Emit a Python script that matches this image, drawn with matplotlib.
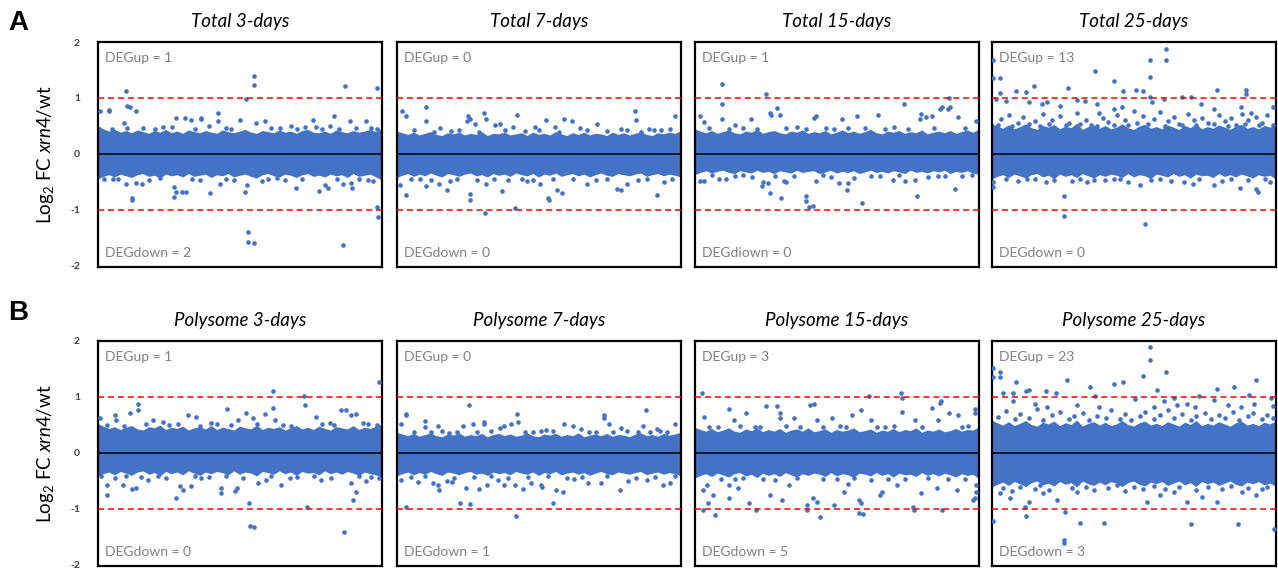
import numpy as np
import matplotlib
matplotlib.use("Agg")
import matplotlib.pyplot as plt

FONT = "Lato"
plt.rcParams['font.family'] = [FONT, 'DejaVu Sans']
plt.rcParams['mathtext.fontset'] = 'custom'
plt.rcParams['mathtext.rm'] = FONT
plt.rcParams['mathtext.it'] = FONT + ':italic'

# ---------------- data ----------------
titles = ["Total 3-days", "Total 7-days", "Total 15-days", "Total 25-days",
          "Polysome 3-days", "Polysome 7-days", "Polysome 15-days", "Polysome 25-days"]
deg_up = [1, 0, 1, 13, 1, 0, 3, 23]
deg_down = [2, 0, 0, 0, 0, 1, 5, 3]
down_label = ["DEGdown", "DEGdown", "DEGdiown", "DEGdown",
              "DEGdown", "DEGdown", "DEGdown", "DEGdown"]
yticks = [-2, -1, 0, 1, 2]
thresholds = [-1, 1]

# upper / lower edge of the dense cloud of genes, read left to right across each panel
t3_hi = [0.50, 0.44, 0.40, 0.43, 0.38, 0.41, 0.37, 0.42, 0.39, 0.36, 0.41, 0.38, 0.43, 0.37, 0.40, 0.36, 0.42, 0.39, 0.37, 0.41, 0.38, 0.36, 0.42, 0.39, 0.37, 0.40, 0.43, 0.38, 0.36, 0.41, 0.39, 0.37, 0.42, 0.38, 0.40, 0.36, 0.41, 0.43, 0.38, 0.37, 0.40, 0.36, 0.42, 0.39, 0.37, 0.41, 0.38, 0.40, 0.43, 0.39, 0.45]
t3_lo = [-0.46, -0.41, -0.38, -0.42, -0.37, -0.40, -0.43, -0.38, -0.36, -0.41, -0.39, -0.44, -0.37, -0.40, -0.38, -0.42, -0.36, -0.41, -0.39, -0.37, -0.43, -0.38, -0.40, -0.36, -0.42, -0.39, -0.37, -0.41, -0.44, -0.38, -0.36, -0.40, -0.42, -0.37, -0.39, -0.43, -0.38, -0.36, -0.41, -0.39, -0.42, -0.37, -0.40, -0.38, -0.43, -0.36, -0.41, -0.39, -0.37, -0.42, -0.47]
t7_hi = [0.40, 0.37, 0.34, 0.38, 0.33, 0.36, 0.39, 0.34, 0.32, 0.37, 0.35, 0.38, 0.33, 0.36, 0.34, 0.39, 0.32, 0.36, 0.35, 0.38, 0.33, 0.35, 0.37, 0.32, 0.38, 0.34, 0.36, 0.33, 0.39, 0.35, 0.32, 0.37, 0.34, 0.38, 0.33, 0.36, 0.35, 0.32, 0.38, 0.34, 0.37, 0.33, 0.36, 0.39, 0.34, 0.32, 0.37, 0.35, 0.38, 0.36, 0.40]
t7_lo = [-0.43, -0.39, -0.36, -0.41, -0.37, -0.40, -0.35, -0.39, -0.42, -0.36, -0.38, -0.41, -0.37, -0.35, -0.40, -0.38, -0.42, -0.36, -0.39, -0.37, -0.41, -0.35, -0.38, -0.40, -0.36, -0.42, -0.37, -0.39, -0.35, -0.41, -0.38, -0.36, -0.40, -0.37, -0.42, -0.38, -0.35, -0.39, -0.41, -0.36, -0.38, -0.40, -0.37, -0.35, -0.41, -0.38, -0.36, -0.40, -0.37, -0.39, -0.42]
t15_hi = [0.44, 0.40, 0.37, 0.41, 0.36, 0.39, 0.42, 0.37, 0.35, 0.40, 0.38, 0.43, 0.36, 0.39, 0.41, 0.37, 0.35, 0.40, 0.38, 0.42, 0.36, 0.39, 0.37, 0.41, 0.35, 0.38, 0.42, 0.37, 0.40, 0.36, 0.39, 0.43, 0.37, 0.35, 0.40, 0.38, 0.41, 0.36, 0.39, 0.37, 0.42, 0.35, 0.38, 0.40, 0.37, 0.41, 0.36, 0.39, 0.42, 0.38, 0.43]
t15_lo = [-0.38, -0.34, -0.31, -0.35, -0.32, -0.30, -0.34, -0.36, -0.31, -0.33, -0.35, -0.30, -0.34, -0.32, -0.36, -0.31, -0.33, -0.35, -0.30, -0.34, -0.32, -0.31, -0.36, -0.33, -0.30, -0.35, -0.32, -0.34, -0.31, -0.36, -0.33, -0.30, -0.34, -0.32, -0.35, -0.31, -0.33, -0.36, -0.30, -0.34, -0.32, -0.35, -0.31, -0.33, -0.30, -0.36, -0.32, -0.34, -0.31, -0.35, -0.37]
t25_hi = [0.54, 0.49, 0.45, 0.51, 0.44, 0.48, 0.53, 0.46, 0.43, 0.50, 0.47, 0.52, 0.44, 0.49, 0.46, 0.54, 0.43, 0.48, 0.51, 0.45, 0.50, 0.44, 0.47, 0.53, 0.46, 0.43, 0.49, 0.52, 0.45, 0.48, 0.44, 0.51, 0.47, 0.43, 0.50, 0.46, 0.53, 0.44, 0.48, 0.45, 0.51, 0.47, 0.43, 0.49, 0.52, 0.45, 0.48, 0.44, 0.50, 0.47, 0.52]
t25_lo = [-0.46, -0.41, -0.38, -0.43, -0.37, -0.40, -0.44, -0.38, -0.36, -0.42, -0.39, -0.45, -0.37, -0.41, -0.38, -0.43, -0.36, -0.40, -0.44, -0.38, -0.41, -0.37, -0.39, -0.43, -0.36, -0.42, -0.38, -0.40, -0.45, -0.37, -0.39, -0.42, -0.36, -0.41, -0.38, -0.44, -0.37, -0.40, -0.39, -0.43, -0.36, -0.41, -0.38, -0.42, -0.37, -0.40, -0.44, -0.38, -0.41, -0.39, -0.45]
p3_hi = [0.52, 0.47, 0.43, 0.46, 0.41, 0.45, 0.48, 0.42, 0.40, 0.46, 0.44, 0.49, 0.41, 0.45, 0.43, 0.47, 0.40, 0.44, 0.46, 0.42, 0.48, 0.41, 0.45, 0.43, 0.40, 0.47, 0.44, 0.42, 0.49, 0.41, 0.45, 0.43, 0.46, 0.40, 0.44, 0.48, 0.42, 0.45, 0.41, 0.47, 0.43, 0.40, 0.46, 0.44, 0.42, 0.48, 0.41, 0.45, 0.43, 0.47, 0.50]
p3_lo = [-0.42, -0.38, -0.35, -0.40, -0.34, -0.37, -0.41, -0.35, -0.33, -0.39, -0.36, -0.42, -0.34, -0.38, -0.35, -0.40, -0.33, -0.37, -0.41, -0.35, -0.38, -0.34, -0.36, -0.40, -0.33, -0.39, -0.35, -0.37, -0.42, -0.34, -0.36, -0.39, -0.33, -0.38, -0.35, -0.41, -0.34, -0.37, -0.36, -0.40, -0.33, -0.38, -0.35, -0.39, -0.34, -0.37, -0.41, -0.35, -0.38, -0.40, -0.44]
p7_hi = [0.36, 0.33, 0.30, 0.34, 0.29, 0.32, 0.35, 0.30, 0.28, 0.33, 0.31, 0.35, 0.29, 0.32, 0.30, 0.34, 0.28, 0.32, 0.34, 0.30, 0.33, 0.29, 0.31, 0.35, 0.30, 0.28, 0.33, 0.31, 0.34, 0.29, 0.32, 0.30, 0.35, 0.28, 0.31, 0.33, 0.30, 0.34, 0.29, 0.32, 0.31, 0.28, 0.33, 0.35, 0.30, 0.32, 0.29, 0.34, 0.31, 0.33, 0.36]
p7_lo = [-0.42, -0.38, -0.35, -0.40, -0.36, -0.39, -0.34, -0.38, -0.41, -0.35, -0.37, -0.40, -0.36, -0.34, -0.39, -0.37, -0.41, -0.35, -0.38, -0.36, -0.40, -0.34, -0.37, -0.39, -0.35, -0.41, -0.36, -0.38, -0.34, -0.40, -0.37, -0.35, -0.39, -0.36, -0.41, -0.37, -0.34, -0.38, -0.40, -0.35, -0.37, -0.39, -0.36, -0.34, -0.40, -0.37, -0.35, -0.39, -0.36, -0.38, -0.41]
p15_hi = [0.45, 0.41, 0.38, 0.43, 0.37, 0.40, 0.44, 0.38, 0.36, 0.42, 0.39, 0.44, 0.37, 0.41, 0.38, 0.43, 0.36, 0.40, 0.42, 0.38, 0.44, 0.37, 0.39, 0.42, 0.36, 0.41, 0.38, 0.40, 0.44, 0.37, 0.39, 0.42, 0.36, 0.40, 0.38, 0.43, 0.37, 0.41, 0.39, 0.44, 0.36, 0.40, 0.38, 0.42, 0.37, 0.39, 0.43, 0.38, 0.41, 0.40, 0.45]
p15_lo = [-0.46, -0.41, -0.38, -0.43, -0.37, -0.40, -0.44, -0.38, -0.36, -0.42, -0.39, -0.45, -0.37, -0.41, -0.38, -0.43, -0.36, -0.40, -0.44, -0.38, -0.41, -0.37, -0.39, -0.43, -0.36, -0.42, -0.38, -0.40, -0.45, -0.37, -0.39, -0.42, -0.36, -0.41, -0.38, -0.44, -0.37, -0.40, -0.39, -0.43, -0.36, -0.41, -0.38, -0.42, -0.37, -0.40, -0.44, -0.38, -0.41, -0.39, -0.46]
p25_hi = [0.58, 0.53, 0.49, 0.55, 0.48, 0.52, 0.57, 0.50, 0.47, 0.54, 0.51, 0.56, 0.48, 0.53, 0.50, 0.58, 0.47, 0.52, 0.55, 0.49, 0.54, 0.48, 0.51, 0.57, 0.50, 0.47, 0.53, 0.56, 0.49, 0.52, 0.48, 0.55, 0.51, 0.47, 0.54, 0.50, 0.57, 0.48, 0.52, 0.49, 0.55, 0.51, 0.47, 0.53, 0.56, 0.49, 0.52, 0.48, 0.54, 0.51, 0.56]
p25_lo = [-0.62, -0.57, -0.53, -0.59, -0.52, -0.56, -0.61, -0.54, -0.51, -0.58, -0.55, -0.60, -0.52, -0.57, -0.54, -0.62, -0.51, -0.56, -0.59, -0.53, -0.58, -0.52, -0.55, -0.61, -0.54, -0.51, -0.57, -0.60, -0.53, -0.56, -0.52, -0.59, -0.55, -0.51, -0.58, -0.54, -0.61, -0.52, -0.56, -0.53, -0.59, -0.55, -0.51, -0.57, -0.60, -0.53, -0.56, -0.52, -0.58, -0.55, -0.60]

# individual genes outside the dense band: (position across panel 0-100, log2 FC)
t3_pts = [(9.7, 1.12), (10.3, 0.85), (11.2, 0.83), (13.5, 0.76), (3.8, 0.79), (3.8, 0.76), (0.6, 0.77), (9, 0.56), (10.2, 0.47),
          (27.6, 0.65), (30.6, 0.64), (32.9, 0.61), (36.3, 0.65), (36.3, 0.62), (42.3, 0.73), (42.3, 0.58), (49.9, 0.61),
          (52.2, 0.985), (54.9, 1.39), (54.9, 1.24), (55.8, 0.56), (58.9, 0.59), (75.7, 0.61), (76.6, 0.49), (81.6, 0.50),
          (83, 0.67), (88.6, 0.58), (86.9, 1.22), (98.4, 1.18), (98.4, 0.45), (94.5, 0.58), (67.8, 0.50), (39, 0.50), (26, 0.48),
          (5, 0.45), (16, 0.46), (20, 0.44), (23, 0.48), (34, 0.45), (45, 0.47), (47, 0.44), (61, 0.46), (64, 0.47), (70, 0.45),
          (73, 0.48), (79, 0.44), (85, 0.45), (91, 0.47), (96, 0.46),
          (12.1, -0.79), (12.1, -0.83), (9.7, -0.53), (13.5, -0.52), (15.6, -0.53), (26.8, -0.59), (26.8, -0.77), (27.6, -0.68),
          (29.5, -0.68), (30.9, -0.68), (39.6, -0.70), (42.8, -0.53), (51.6, -0.68), (52.5, -0.55), (52.9, -1.40), (52.9, -1.58),
          (54.8, -1.60), (57.9, -0.49), (69.8, -0.61), (77.8, -0.67), (79.8, -0.56), (81, -0.60), (86.3, -0.53), (89.2, -0.52),
          (89.5, -0.60), (86.3, -1.62), (96.8, -0.49), (98.4, -0.95), (98.6, -1.12), (5.3, -0.45),
          (2, -0.45), (7, -0.44), (18, -0.46), (22, -0.43), (33, -0.45), (36, -0.47), (45, -0.44), (48, -0.46), (60, -0.45),
          (63, -0.43), (66, -0.46), (72, -0.44), (84, -0.45), (92, -0.44), (95, -0.46)]
t7_pts = [(10.1, 0.83), (10.1, 0.58), (1.9, 0.77), (3.1, 0.68), (25.1, 0.68), (25.7, 0.62), (24.7, 0.59), (27.5, 0.54),
          (30.7, 0.73), (31.4, 0.62), (34.5, 0.52), (36.3, 0.53), (42.2, 0.69), (41, 0.48), (48.7, 0.48), (52.5, 0.60),
          (58.7, 0.63), (61.7, 0.58), (55.8, 0.48), (70.5, 0.53), (78.8, 0.44), (83.7, 0.77), (84.1, 0.61), (88.8, 0.44),
          (90.6, 0.42), (97.9, 0.67), (15.1, 0.47), (64.6, 0.47),
          (6, 0.42), (13, 0.40), (19, 0.41), (22, 0.43), (29, 0.40), (38, 0.42), (45, 0.41), (50, 0.43), (57, 0.40), (67, 0.42),
          (74, 0.41), (81, 0.43), (86, 0.40), (93, 0.42), (96, 0.44),
          (3.1, -0.73), (0.9, -0.56), (10.1, -0.57), (14.8, -0.53), (17.5, -0.65), (25.7, -0.71), (25.7, -0.83), (31.4, -0.53),
          (31, -1.05), (36.9, -0.66), (41.6, -0.97), (50.5, -0.54), (53.2, -0.79), (53.4, -0.83), (56.4, -0.65), (58.1, -0.69),
          (67, -0.53), (77.6, -0.62), (79, -0.65), (81.1, -0.53), (91.7, -0.74), (94.1, -0.50), (45.8, -0.49), (18.6, -0.49),
          (5, -0.45), (8, -0.44), (12, -0.46), (21, -0.44), (28, -0.46), (34, -0.45), (39, -0.47), (44, -0.44), (48, -0.46),
          (55, -0.45), (62, -0.44), (70, -0.46), (74, -0.45), (85, -0.47), (88, -0.44), (97, -0.45)]
t15_pts = [(9.4, 1.25), (9.4, 0.90), (9.4, 0.62), (1.8, 0.68), (3, 0.57), (25.1, 1.07), (26.3, 0.73), (26.8, 0.69),
           (28.9, 0.82), (29.9, 0.69), (19.7, 0.63), (42.5, 0.67), (41.9, 0.65), (51.9, 0.62), (57, 0.68), (64.6, 0.69),
           (73.6, 0.89), (79.5, 0.71), (79.1, 0.63), (81.5, 0.66), (83.5, 0.68), (86.2, 0.81), (86.8, 0.83), (89.4, 1.00),
           (89.7, 0.84), (89.1, 0.81), (92.7, 0.66), (98.8, 0.59), (14.2, 0.51),
           (5, 0.46), (12, 0.45), (17, 0.47), (22, 0.44), (32, 0.46), (36, 0.48), (39, 0.45), (46, 0.47), (49, 0.44), (54, 0.46),
           (60, 0.47), (67, 0.45), (70, 0.48), (75, 0.44), (84, 0.46), (95, 0.47),
           (1.8, -0.49), (3.2, -0.49), (8.3, -0.45), (11, -0.45), (23.6, -0.58), (25.6, -0.52), (24, -0.51), (26.3, -0.70),
           (30.3, -0.78), (31.3, -0.49), (32.2, -0.51), (39, -0.75), (39, -0.84), (40.1, -0.95), (41.7, -0.93), (42.7, -0.48),
           (50.8, -0.52), (53.4, -0.64), (53.7, -0.52), (56.1, -0.43), (58.9, -0.87), (69.7, -0.46), (73.8, -0.49), (78, -0.75),
           (77.3, -0.46), (85.6, -0.39), (91.5, -0.63), (97.4, -0.38),
           (6, -0.38), (14, -0.40), (17, -0.38), (20, -0.41), (28, -0.39), (35, -0.40), (45, -0.38), (48, -0.41), (62, -0.39),
           (65, -0.40), (72, -0.38), (82, -0.41), (88, -0.39), (94, -0.40)]
t25_pts = [(0.4, 1.68), (0.4, 1.35), (2.7, 1.35), (2.7, 1.09), (1.3, 0.98), (5.1, 0.95), (8.4, 1.12), (11.9, 1.11),
           (14.9, 1.21), (17.5, 0.89), (26.7, 1.18), (36.3, 1.49), (42.8, 1.31), (46.3, 1.12), (50.8, 1.15), (53.2, 1.12),
           (55.5, 1.67), (55.8, 1.37), (61.1, 1.87), (61.1, 1.68), (60.7, 0.98), (55.8, 1.01), (56.4, 0.92), (67, 1.02),
           (69.9, 1.02), (79.4, 1.15), (89.4, 1.15), (89.4, 1.07), (98.8, 0.83), (29.8, 0.97), (32.8, 0.95), (36.9, 0.89),
           (19.2, 0.92), (23.9, 0.86), (13, 0.92), (37.5, 0.74), (42.8, 0.80), (45.7, 0.83), (49.9, 0.77), (73.5, 0.89),
           (78.2, 0.80), (87.6, 0.83), (91.1, 0.74),
           (3, 0.62), (6, 0.70), (9, 0.55), (11, 0.66), (15, 0.58), (18, 0.72), (21, 0.60), (24, 0.68), (27, 0.56), (30, 0.74),
           (33, 0.61), (35, 0.52), (39, 0.65), (41, 0.57), (44, 0.70), (47, 0.60), (51, 0.55), (53, 0.68), (57, 0.62), (59, 0.75),
           (62, 0.58), (64, 0.66), (66, 0.54), (69, 0.71), (71, 0.60), (74, 0.65), (76, 0.55), (80, 0.70), (82, 0.58), (84, 0.64),
           (86, 0.52), (88, 0.72), (90, 0.60), (93, 0.66), (95, 0.56), (97, 0.70),
           (2, 0.52), (7, 0.50), (13, 0.53), (17, 0.50), (20, 0.54), (26, 0.51), (31, 0.53), (37, 0.50), (43, 0.52), (48, 0.51),
           (55, 0.53), (61, 0.50), (67, 0.52), (72, 0.51), (78, 0.54), (83, 0.50), (89, 0.53), (94, 0.51), (99, 0.52),
           (0.4, -0.50), (0.4, -0.59), (25.4, -0.76), (25.4, -1.10), (33.4, -0.50), (39.9, -0.47), (52.1, -0.56), (53.8, -1.25),
           (67.6, -0.50), (70.9, -0.53), (78.2, -0.55), (87.4, -0.60), (92.9, -0.62), (93.5, -0.68), (42.8, -0.44), (12.2, -0.45),
           (5, -0.45), (9, -0.48), (15, -0.44), (19, -0.50), (22, -0.46), (28, -0.49), (31, -0.44), (36, -0.47), (45, -0.45),
           (48, -0.50), (56, -0.46), (59, -0.44), (63, -0.48), (73, -0.45), (81, -0.48), (84, -0.44), (90, -0.47), (96, -0.45), (98, -0.50)]
p3_pts = [(0.6, 0.62), (5.9, 0.67), (11.2, 0.71), (14.1, 0.87), (14.1, 0.77), (19.4, 0.59), (22.9, 0.56), (31.7, 0.67),
          (34.6, 0.65), (39.9, 0.53), (45.4, 0.78), (49.3, 0.59), (52.2, 0.71), (54.6, 0.62), (58.7, 0.69), (61.6, 1.11),
          (61.6, 0.81), (62.2, 0.59), (72.4, 1.02), (72.8, 0.86), (76.9, 0.65), (81.6, 0.53), (85.7, 0.77), (87.2, 0.76),
          (89.2, 0.68), (91, 0.69), (93.3, 0.53), (98.8, 1.27), (98.4, 0.50), (6.5, 0.59),
          (3, 0.50), (9, 0.49), (17, 0.51), (25, 0.50), (28, 0.52), (36, 0.49), (42, 0.51), (47, 0.50), (56, 0.52), (65, 0.50),
          (68, 0.49), (79, 0.51), (83, 0.50), (95, 0.52),
          (3.2, -0.57), (3.2, -0.75), (5.9, -0.45), (8.8, -0.57), (12.1, -0.64), (13.5, -0.63), (17.6, -0.48), (27.6, -0.81),
          (28.8, -0.59), (29.9, -0.66), (32.9, -0.59), (36.4, -0.45), (43.4, -0.63), (43.4, -0.72), (48.1, -0.68), (48.9, -0.63),
          (53.2, -0.90), (53.4, -1.30), (54.8, -1.32), (56.3, -0.54), (59, -0.48), (64.6, -0.58), (67.5, -0.45), (73.6, -0.96),
          (78.6, -0.48), (86.5, -1.42), (89.2, -0.54), (89.7, -0.84), (90.7, -0.69), (94.5, -0.51), (98.8, -0.45),
          (1, -0.42), (10, -0.41), (15, -0.43), (21, -0.42), (24, -0.44), (34, -0.41), (39, -0.43), (45, -0.42), (51, -0.44),
          (61, -0.41), (70, -0.43), (76, -0.42), (82, -0.44), (92, -0.41), (96, -0.43)]
p7_pts = [(3.1, 0.70), (3.1, 0.67), (1.5, 0.52), (9.8, 0.57), (9.8, 0.47), (14.5, 0.49), (18.4, 0.36), (23.4, 0.48),
          (25.2, 0.85), (26.9, 0.52), (30.5, 0.55), (30.5, 0.51), (36.4, 0.45), (37.8, 0.48), (40, 0.51), (42.3, 0.70),
          (42.6, 0.55), (50.6, 0.39), (52.4, 0.41), (58.9, 0.51), (61.8, 0.49), (64.8, 0.42), (67.7, 0.38), (73, 0.67),
          (73, 0.63), (74.8, 0.52), (78.9, 0.45), (84.9, 0.38), (87.5, 0.76), (86.6, 0.49), (91.4, 0.42), (92.6, 0.39), (97.9, 0.52),
          (6, 0.38), (12, 0.37), (16, 0.39), (21, 0.38), (28, 0.37), (33, 0.39), (45, 0.38), (48, 0.37), (55, 0.39), (70, 0.38),
          (76, 0.37), (81, 0.39), (89, 0.38), (95, 0.37),
          (3.3, -0.96), (1.5, -0.48), (7.4, -0.52), (12.5, -0.54), (14.5, -0.57), (14.9, -0.67), (17.7, -0.51), (19.3, -0.52),
          (22.2, -0.89), (25.8, -0.91), (24.3, -0.63), (28.7, -0.64), (31.7, -0.57), (35.5, -0.48), (37.6, -0.57), (41.4, -0.58),
          (42, -1.13), (44.4, -0.64), (47.1, -0.54), (50.6, -0.57), (51.2, -0.60), (55, -0.89), (55.9, -0.67), (58.3, -0.70),
          (62.4, -0.46), (67.1, -0.54), (71.9, -0.54), (78.4, -0.67), (81.3, -0.50), (88.2, -0.48), (93.7, -0.58), (96.1, -0.54),
          (5, -0.43), (10, -0.42), (20, -0.44), (27, -0.43), (33, -0.42), (39, -0.44), (46, -0.43), (53, -0.42), (60, -0.44),
          (65, -0.43), (74, -0.42), (84, -0.44), (91, -0.43), (98, -0.42)]
p15_pts = [(2.6, 1.07), (3.2, 0.64), (11.8, 0.78), (18, 0.71), (13.6, 0.59), (25.1, 0.83), (28.9, 0.83), (29.8, 0.71),
           (29.8, 0.62), (34.8, 0.63), (40.4, 0.85), (41.9, 0.88), (42.8, 0.59), (48.4, 0.63), (55.4, 0.68), (58.4, 0.77),
           (61.4, 1.01), (61.9, 0.59), (72.5, 1.07), (72.8, 0.98), (72.8, 0.74), (77.3, 0.59), (83.4, 0.80), (86.1, 0.89),
           (86.5, 0.92), (89.3, 0.71), (92.6, 0.68), (98.7, 0.78), (98.7, 0.71), (85.5, 0.59),
           (5, 0.47), (8, 0.46), (16, 0.48), (21, 0.46), (23, 0.47), (32, 0.48), (37, 0.46), (45, 0.47), (51, 0.48), (53, 0.46),
           (64, 0.47), (67, 0.46), (70, 0.48), (80, 0.46), (94, 0.47), (96, 0.48),
           (2.7, -0.66), (2.7, -1.02), (4.7, -0.90), (7.1, -1.10), (6.5, -0.75), (4.4, -0.57), (11.8, -0.81), (12.1, -0.57),
           (15.3, -0.63), (18.9, -0.90), (21.6, -1.02), (26.3, -0.75), (30.7, -0.84), (33, -0.57), (39.3, -0.93), (39.3, -1.02),
           (41.6, -0.81), (42.8, -0.87), (44, -1.15), (48.9, -0.93), (52.5, -0.69), (53.7, -0.56), (57.8, -1.08), (59, -1.09),
           (57.8, -0.84), (58.4, -0.90), (65.2, -0.75), (66, -0.69), (71.3, -0.57), (77, -1.02), (76.6, -0.96), (79.6, -0.72),
           (86.9, -1.02), (85.3, -0.63), (92.3, -0.66), (98.5, -0.81), (99.1, -0.69), (99.1, -0.57), (97.9, -0.84),
           (9, -0.46), (14, -0.47), (17, -0.45), (24, -0.46), (28, -0.48), (36, -0.45), (45, -0.47), (50, -0.46), (56, -0.45),
           (62, -0.48), (68, -0.46), (74, -0.47), (82, -0.45), (89, -0.47), (95, -0.46)]
p25_pts = [(0.4, 1.52), (0.4, 1.36), (2.7, 1.44), (2.7, 1.35), (8.4, 1.26), (3.9, 1.07), (7.4, 1.07), (11.9, 1.10),
           (13.1, 1.13), (19, 1.10), (22.5, 1.07), (26.5, 1.31), (34.6, 1.17), (36.3, 1.02), (43, 1.24), (46.3, 1.26),
           (53.2, 1.38), (55.8, 1.90), (55.8, 1.66), (61.1, 1.44), (58.1, 1.12), (64, 0.98), (72.9, 1.02), (79.4, 1.15),
           (85.3, 1.18), (92.9, 1.30), (90.6, 1.03), (98.2, 0.98), (98.8, 0.83),
           (7.4, 0.92), (15.1, 0.88), (19.2, 0.82), (29.8, 0.85), (37.5, 0.82), (50.5, 0.97), (56.9, 0.82), (60.4, 0.92),
           (65.2, 0.85), (68.8, 0.87), (71.6, 0.82), (78.2, 0.94), (83, 0.85), (87.8, 0.82), (92.4, 0.88),
           (2, 0.65), (5, 0.75), (8, 0.60), (10, 0.70), (13, 0.62), (16, 0.78), (18, 0.58), (21, 0.68), (24, 0.74), (27, 0.60),
           (29, 0.66), (32, 0.72), (34, 0.58), (37, 0.66), (40, 0.62), (42, 0.76), (45, 0.60), (47, 0.70), (49, 0.58), (52, 0.66),
           (54, 0.74), (57, 0.60), (59, 0.68), (62, 0.76), (64, 0.62), (67, 0.70), (70, 0.58), (72, 0.66), (75, 0.72), (77, 0.60),
           (80, 0.68), (82, 0.62), (85, 0.74), (87, 0.58), (90, 0.66), (92, 0.72), (95, 0.60), (97, 0.68), (99, 0.62),
           (0.4, -1.21), (12.1, -1.12), (11.5, -0.96), (13, -0.88), (25.7, -1.05), (25.3, -1.55), (25.3, -1.61), (31, -1.26),
           (39.3, -1.26), (54.6, -0.87), (59.3, -0.75), (70.2, -1.27), (68.8, -0.87), (74.1, -0.78), (79.1, -0.88), (86.7, -1.27),
           (99.2, -1.36), (92.9, -0.75), (88.2, -0.69), (64, -0.69), (22.8, -0.84), (18, -0.72), (6.2, -0.81), (2.7, -0.72),
           (4, -0.62), (7, -0.68), (10, -0.60), (15, -0.64), (17, -0.58), (20, -0.66), (28, -0.62), (30, -0.70), (33, -0.60),
           (36, -0.66), (41, -0.63), (44, -0.58), (47, -0.68), (50, -0.61), (53, -0.65), (57, -0.59), (61, -0.64), (66, -0.60),
           (72, -0.66), (76, -0.61), (81, -0.64), (84, -0.59), (90, -0.63), (95, -0.65), (97, -0.60)]

band_hi = [t3_hi, t7_hi, t15_hi, t25_hi, p3_hi, p7_hi, p15_hi, p25_hi]
band_lo = [t3_lo, t7_lo, t15_lo, t25_lo, p3_lo, p7_lo, p15_lo, p25_lo]
points = [t3_pts, t7_pts, t15_pts, t25_pts, p3_pts, p7_pts, p15_pts, p25_pts]

# ---------------- drawing ----------------
W, H = 1278, 572
fig = plt.figure(figsize=(W / 100, H / 100), dpi=100)

BLUE = "#4472C4"
col_left = [98, 397, 695, 992]
ax_w = 284
row_top = [42, 341]
ax_h = 225

for i in range(8):
    r, c = divmod(i, 4)
    left = col_left[c] / W
    bottom = (H - row_top[r] - ax_h) / H
    ax = fig.add_axes([left, bottom, ax_w / W, ax_h / H])
    ax.set_xlim(0, 100)
    ax.set_ylim(-2.02, 2.0)

    hi = np.asarray(band_hi[i])
    lo = np.asarray(band_lo[i])
    xh = np.linspace(0, 100, len(hi))
    xl = np.linspace(0, 100, len(lo))
    ax.fill(np.r_[xh, xl[::-1]], np.r_[hi, lo[::-1]], color=BLUE, lw=0, zorder=2)
    pts = np.array(points[i])
    ax.scatter(pts[:, 0], pts[:, 1], s=11, color=BLUE, lw=0, zorder=3)

    ax.axhline(0, color="black", lw=1.1, zorder=5)
    for t in thresholds:
        ax.axhline(t, color="#FF0000", lw=1.1, ls=(0, (4, 2.5)), zorder=4)

    for s in ax.spines.values():
        s.set_linewidth(1.6)
        s.set_color("black")
    ax.set_xticks([])
    ax.set_yticks(yticks)
    ax.tick_params(axis="y", length=0, pad=13)
    if c == 0:
        ax.set_yticklabels([str(v) for v in yticks], fontsize=7.5, fontweight="bold", color="#404040")
        ax.set_ylabel(r"Log$_2$ FC $\mathit{xrn4}$/wt", fontsize=13.5, labelpad=10)
    else:
        ax.set_yticklabels([])

    ax.set_title(titles[i], fontsize=13.5, style="italic", pad=11)
    ax.text(0.026, 0.955, f"DEGup = {deg_up[i]}", transform=ax.transAxes,
            fontsize=10, color="#808080", ha="left", va="top")
    ax.text(0.026, 0.035, f"{down_label[i]} = {deg_down[i]}", transform=ax.transAxes,
            fontsize=10, color="#808080", ha="left", va="bottom")

fig.text(8 / W, 1 - 10 / H, "A", fontsize=20, fontweight="bold", family="Liberation Sans", va="top", ha="left")
fig.text(8 / W, 1 - 300 / H, "B", fontsize=20, fontweight="bold", family="Liberation Sans", va="top", ha="left")

fig.savefig("out.png", dpi=100)
